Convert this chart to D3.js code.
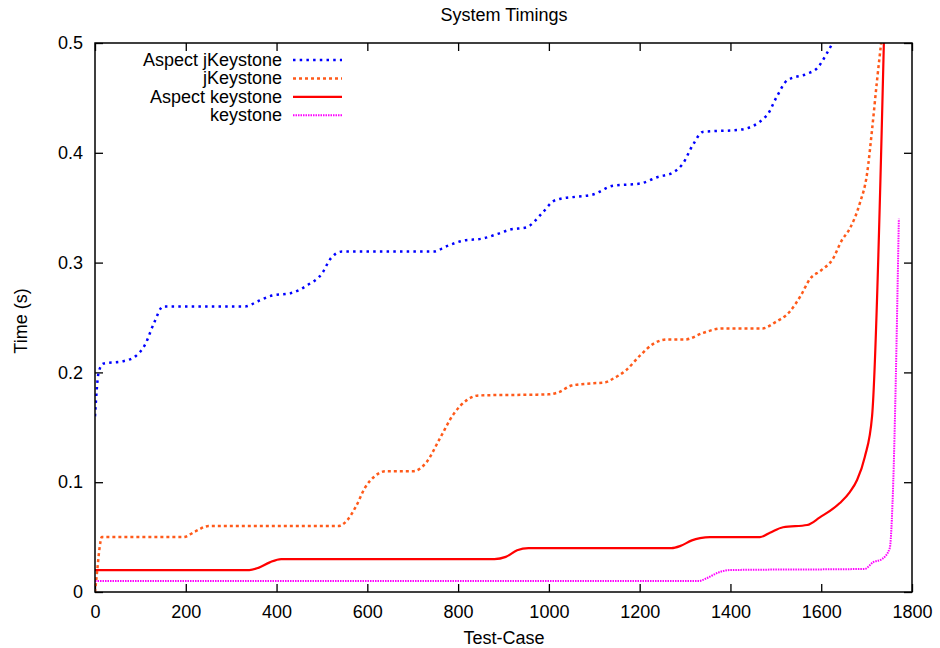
<!DOCTYPE html>
<html><head><meta charset="utf-8">
<script src="https://cdn.jsdelivr.net/npm/d3@7"></script>
<style>body{margin:0;background:#fff}svg{display:block}text{font-family:"Liberation Sans",Arial,sans-serif;font-size:18px;fill:#000}</style>
</head><body><svg id="c" width="940" height="648"></svg>
<script>
const title = "System Timings";
const xLabel = "Test-Case";
const yLabel = "Time (s)";
const xTicks = [0,200,400,600,800,1000,1200,1400,1600,1800];
const yTicks = [0,0.1,0.2,0.3,0.4,0.5];
const seriesNames = ["Aspect jKeystone","jKeystone","Aspect keystone","keystone"];

const aspectJKeystoneX = [0,8,18,60,90,110,130,150,330,360,390,430,470,500,518,544,745,775,811,855,886,914,950,985,1010,1024,1060,1097,1141,1201,1240,1273,1295,1317,1339,1421,1480,1502,1525,1569,1591,1613,1625];
const aspectJKeystoneY = [0.16,0.2,0.208,0.21,0.215,0.225,0.245,0.26,0.26,0.265,0.27,0.272,0.28,0.29,0.303,0.31,0.31,0.315,0.32,0.322,0.326,0.33,0.332,0.345,0.356,0.358,0.36,0.362,0.37,0.372,0.378,0.382,0.39,0.407,0.419,0.421,0.434,0.451,0.466,0.472,0.477,0.491,0.5];

const jKeystoneX = [0,5,10,15,195,220,250,535,555,575,595,615,640,700,730,760,790,820,845,1000,1022,1050,1095,1125,1140,1170,1200,1230,1260,1300,1340,1380,1470,1500,1530,1555,1575,1600,1625,1645,1663,1685,1701,1712,1723,1732];
const jKeystoneY = [0,0.02,0.04,0.05,0.05,0.055,0.06,0.06,0.065,0.078,0.095,0.105,0.11,0.11,0.118,0.14,0.162,0.175,0.179,0.18,0.182,0.188,0.19,0.191,0.194,0.202,0.215,0.226,0.23,0.23,0.236,0.24,0.24,0.246,0.255,0.27,0.285,0.293,0.303,0.32,0.331,0.354,0.381,0.421,0.466,0.5];

const aspectKeystoneX = [0,340,360,385,410,880,905,930,955,1270,1290,1315,1333,1355,1465,1487,1516,1569,1597,1641,1663,1679,1696,1712,1738];
const aspectKeystoneY = [0.02,0.02,0.022,0.027,0.03,0.03,0.032,0.038,0.04,0.04,0.042,0.047,0.049,0.05,0.05,0.054,0.059,0.061,0.068,0.081,0.091,0.102,0.123,0.16,0.5];

const keystoneX = [0,1330,1350,1375,1399,1696,1714,1734,1751,1757,1771];
const keystoneY = [0.01,0.01,0.013,0.018,0.02,0.021,0.027,0.03,0.04,0.08,0.34];

const colors = ["#0000ff","#ff5a1a","#ff0000","#ff00ff"];
const dashes = ["2.5,4.2","3,3",null,"1.5,1"];
const widths = [2.5,2.5,2.2,2];

const svg = d3.select("#c");
const L=95,R=912,T=43,B=592;
const x = d3.scaleLinear().domain([0,1800]).range([L,R]);
const y = d3.scaleLinear().domain([0,0.5]).range([B,T]);

svg.append("defs").append("clipPath").attr("id","clip").append("rect")
  .attr("x",L).attr("y",T).attr("width",R-L).attr("height",B-T);

const fmt = d => String(d);
svg.append("g").attr("transform",`translate(0,${B})`)
  .call(d3.axisBottom(x).tickValues(xTicks).tickFormat(fmt).tickSizeInner(-8).tickSizeOuter(0).tickPadding(13));
svg.append("g").attr("transform",`translate(0,${T})`)
  .call(d3.axisTop(x).tickValues(xTicks).tickFormat("").tickSizeInner(-8).tickSizeOuter(0));
svg.append("g").attr("transform",`translate(${L},0)`)
  .call(d3.axisLeft(y).tickValues(yTicks).tickFormat(fmt).tickSizeInner(-8).tickSizeOuter(0).tickPadding(12));
svg.append("g").attr("transform",`translate(${R},0)`)
  .call(d3.axisRight(y).tickValues(yTicks).tickFormat("").tickSizeInner(-8).tickSizeOuter(0));
svg.selectAll(".domain").remove();
svg.selectAll(".tick line").attr("stroke","#000").attr("stroke-width",1.3);
svg.selectAll(".tick text").style("font-size","18px").attr("fill","#000");

const data = [
  [aspectJKeystoneX,aspectJKeystoneY],
  [jKeystoneX,jKeystoneY],
  [aspectKeystoneX,aspectKeystoneY],
  [keystoneX,keystoneY]
];
const line = d3.line().x(d=>x(d[0])).y(d=>y(d[1])).curve(d3.curveMonotoneX);
const g = svg.append("g").attr("clip-path","url(#clip)");
data.forEach((s,i)=>{
  const pts = s[0].map((v,j)=>[v,s[1][j]]);
  g.append("path").attr("d",line(pts)).attr("fill","none")
   .attr("stroke",colors[i]).attr("stroke-width",widths[i])
   .attr("stroke-dasharray",dashes[i]);
});

svg.append("rect").attr("x",L).attr("y",T).attr("width",R-L).attr("height",B-T)
  .attr("fill","none").attr("stroke","#000").attr("stroke-width",1.5);

// legend
seriesNames.forEach((n,i)=>{
  const by = 66 + i*18.4;
  svg.append("text").attr("x",282).attr("y",by).attr("text-anchor","end").text(n);
  svg.append("line").attr("x1",293).attr("x2",342).attr("y1",by-6).attr("y2",by-6)
    .attr("stroke",colors[i]).attr("stroke-width",widths[i]).attr("stroke-dasharray",dashes[i]);
});

svg.append("text").attr("x",504).attr("y",21).attr("text-anchor","middle").text(title);
svg.append("text").attr("x",504).attr("y",644).attr("text-anchor","middle").text(xLabel);
svg.append("text").attr("transform","translate(27,321) rotate(-90)").attr("text-anchor","middle").text(yLabel);
</script></body></html>
